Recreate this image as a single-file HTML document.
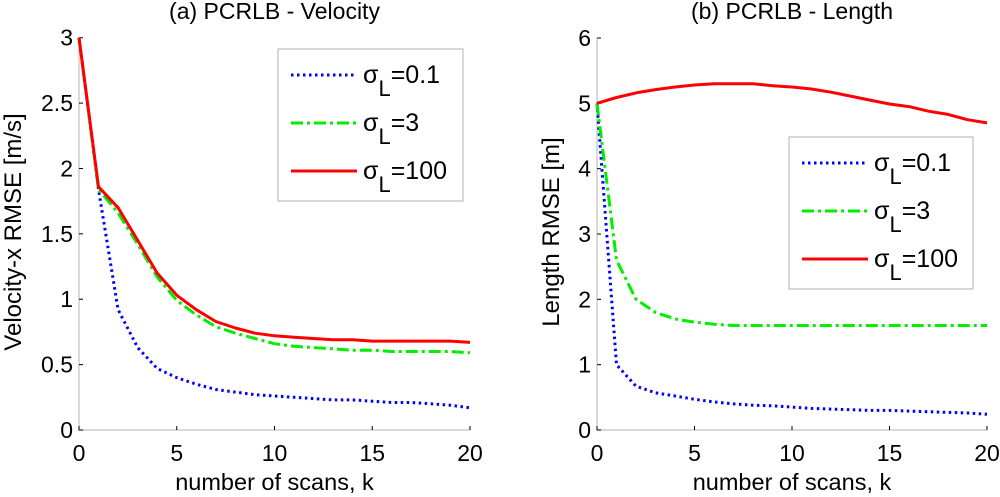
<!DOCTYPE html>
<html><head><meta charset="utf-8"><style>
html,body{margin:0;padding:0;background:#fff;}
svg{display:block;font-family:"Liberation Sans",sans-serif;}
</style></head><body>
<svg id="chart" width="1000" height="497" viewBox="0 0 1000 497"></svg>
<script>
const ks = [0,1,2,3,4,5,6,7,8,9,10,11,12,13,14,15,16,17,18,19,20];
const velRed = [3,1.86,1.7,1.45,1.2,1.03,0.92,0.83,0.78,0.74,0.72,0.71,0.70,0.69,0.69,0.68,0.68,0.68,0.68,0.68,0.67];
const velGreen = [3,1.84,1.66,1.42,1.17,0.99,0.88,0.79,0.74,0.70,0.66,0.64,0.63,0.62,0.61,0.61,0.60,0.60,0.60,0.60,0.59];
const velBlue = [3,1.84,0.92,0.63,0.47,0.40,0.35,0.31,0.29,0.27,0.26,0.25,0.24,0.23,0.23,0.22,0.21,0.21,0.20,0.19,0.17];
const lenRed = [5,5.09,5.16,5.21,5.25,5.28,5.30,5.30,5.30,5.27,5.25,5.22,5.17,5.11,5.05,4.99,4.95,4.88,4.83,4.75,4.70];
const lenGreen = [5,2.6,2.0,1.8,1.7,1.65,1.62,1.6,1.6,1.6,1.6,1.6,1.6,1.6,1.6,1.6,1.6,1.6,1.6,1.6,1.6];
const lenBlue = [5,1.0,0.67,0.57,0.52,0.47,0.43,0.40,0.38,0.37,0.35,0.33,0.32,0.31,0.30,0.30,0.29,0.28,0.27,0.26,0.24];
const xTicks = [0,5,10,15,20];
const velYTicks = [0,0.5,1,1.5,2,2.5,3];
const lenYTicks = [0,1,2,3,4,5,6];
const legendLabels = ["0.1","3","100"];

const NS = "http://www.w3.org/2000/svg";
const svg = document.getElementById("chart");
function mk(tag, attrs, parent){ const e=document.createElementNS(NS,tag); for(const k in attrs) e.setAttribute(k,attrs[k]); (parent||svg).appendChild(e); return e; }

const styles = [
  {color:"#0000ff", dash:"2.5,3.5", w:3, name:"blue"},
  {color:"#00ee00", dash:"12,4,3,4", w:3, name:"green"},
  {color:"#ff0000", dash:"", w:3, name:"red"}
];

function panel(cfg){
  const g = mk("g",{});
  
  
  const xs = v => cfg.x0 + (v-0)/(20-0)*(cfg.x1-cfg.x0);
  const ys = v => cfg.y0 - (v-0)/(cfg.ymax)*(cfg.y0-cfg.y1);
  const ax = mk("path",{d:`M${cfg.x0},${cfg.y1} L${cfg.x0},${cfg.y0} L${cfg.x1},${cfg.y0}`,fill:"none",stroke:"#c0c0c0","stroke-width":1.2},g);
  
  
  xTicks.forEach(t=>{
    mk("line",{x1:xs(t),x2:xs(t),y1:cfg.y0,y2:cfg.y0-4,stroke:"#000","stroke-width":1},g);
    const tx = mk("text",{x:xs(t),y:cfg.y0+31,"text-anchor":"middle","font-size":23,fill:"#000"},g);
    tx.textContent = t;
    
    
  });
  cfg.yTicks.forEach(t=>{
    mk("line",{x1:cfg.x0,x2:cfg.x0+4,y1:ys(t),y2:ys(t),stroke:"#000","stroke-width":1},g);
    const tx = mk("text",{x:cfg.x0-6,y:ys(t)+8,"text-anchor":"end","font-size":23,fill:"#000"},g);
    tx.textContent = t;
    
    
  });
  const title = mk("text",{x:(cfg.x0+cfg.x1)/2,y:19,"text-anchor":"middle","font-size":23},g);
  title.textContent = cfg.title;
  
  
  const xl = mk("text",{x:(cfg.x0+cfg.x1)/2,y:490,"text-anchor":"middle","font-size":23.5},g);
  xl.textContent = "number of scans, k";
  
  
  const yl = mk("text",{x:0,y:0,"text-anchor":"middle","font-size":24,transform:`translate(${cfg.ylx},${cfg.ylc}) rotate(-90)`},g);
  yl.textContent = cfg.ylabel;
  
  
  cfg.series.forEach((s,i)=>{
    const st = styles[i];
    const d = s.map((v,j)=>(j?"L":"M")+xs(ks[j]).toFixed(1)+","+ys(v).toFixed(1)).join(" ");
    const p = mk("path",{d:d,fill:"none",stroke:st.color,"stroke-width":st.w,"stroke-dasharray":st.dash,"stroke-linejoin":"round"},g);
    
    
  });
  const L = cfg.leg;
  const lg = mk("g",{},g);
  
  
  mk("rect",{x:L.x,y:L.y,width:L.w,height:L.h,fill:"#fff",stroke:"#b0b0b0","stroke-width":1},lg);
  legendLabels.forEach((lab,i)=>{
    const st = styles[i];
    const yy = L.y+26+i*48;
    mk("line",{x1:L.x+13,x2:L.x+79,y1:yy,y2:yy,stroke:st.color,"stroke-width":st.w,"stroke-dasharray":st.dash},lg);
    const t = mk("text",{x:L.x+85,y:yy+8,"font-size":25},lg);
    
    
    const a = mk("tspan",{},t); a.textContent = "σ";
    const b = mk("tspan",{dy:13,"font-size":22},t); b.textContent = "L";
    const c = mk("tspan",{dy:-13},t); c.textContent = "="+lab;
  });
}

panel({name:"velocity-panel",x0:79,x1:470,y0:430,y1:37.7,ymax:3,yTicks:velYTicks,title:"(a) PCRLB - Velocity",ylabel:"Velocity-x RMSE [m/s]",ylx:21,ylc:232,series:[velBlue,velGreen,velRed],leg:{x:278,y:49,w:185,h:152}});
panel({name:"length-panel",x0:597,x1:987,y0:430,y1:38,ymax:6,yTicks:lenYTicks,title:"(b) PCRLB - Length",ylabel:"Length RMSE [m]",ylx:559,ylc:232,series:[lenBlue,lenGreen,lenRed],leg:{x:789,y:137,w:184,h:152}});
</script>
</body></html>
